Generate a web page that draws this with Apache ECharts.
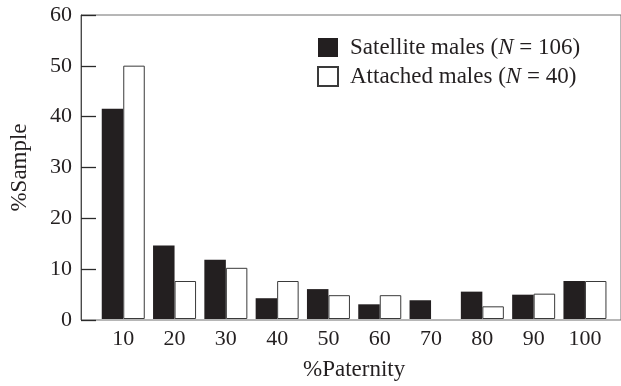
<!DOCTYPE html>
<html>
<head>
<meta charset="utf-8">
<script src="https://cdn.jsdelivr.net/npm/echarts@6/dist/echarts.min.js"></script>
<style>
  html, body { margin: 0; padding: 0; background: #fff; }
  #chart { width: 621px; height: 386px; }
</style>
</head>
<body>
<div id="chart"></div>
<script>
// Paternity classes (%) on the x axis
const categories = ['10', '20', '30', '40', '50', '60', '70', '80', '90', '100'];
// Share of each sample (%) falling in each paternity class
const satellite = [41.5, 14.5, 11.7, 4.1, 5.9, 2.9, 3.7, 5.4, 4.8, 7.5];
const attached = [50, 7.5, 10.1, 7.5, 4.7, 4.7, 0, 2.5, 5, 7.5];
// Legend entries and their sample sizes
const groupNames = ['Satellite males', 'Attached males'];
const sampleSizes = [106, 40];
// Y axis range and step
const yMin = 0;
const yMax = 60;
const yStep = 10;

const FONT = '"Liberation Serif", "Times New Roman", serif';
const INK = '#231f20';
const LINE = '#6e6e6e';

// empty classes get no outline so nothing is drawn on the baseline
function outlined(values) {
  return values.map(function (v) {
    return v === 0 ? { value: v, itemStyle: { borderWidth: 0 } } : v;
  });
}

const chart = echarts.init(document.getElementById('chart'), null, { renderer: 'canvas' });

chart.setOption({
  backgroundColor: '#ffffff',
  animation: false,
  textStyle: { fontFamily: FONT, color: INK },
  grid: [
    // plotting area holding the category bands
    { left: 97.6, right: 10.4, top: 15, bottom: 66 },
    // frame: y axis, top rule and baseline spanning the full width
    { left: 81, right: -20, top: 15, bottom: 66, show: true, borderColor: LINE, borderWidth: 1, backgroundColor: 'transparent' }
  ],
  legend: {
    orient: 'vertical',
    left: 317,
    top: 36,
    padding: 0,
    itemWidth: 20,
    itemHeight: 19,
    itemGap: 6,
    icon: 'rect',
    selectedMode: false,
    data: groupNames,
    formatter: function (name) {
      const n = sampleSizes[groupNames.indexOf(name)];
      return name + ' ({i|N} = ' + n + ')';
    },
    textStyle: {
      fontFamily: FONT,
      fontSize: 23,
      color: INK,
      padding: [0, 0, 0, 7],
      rich: {
        i: { fontFamily: FONT, fontSize: 23, fontStyle: 'italic', color: INK }
      }
    }
  },
  xAxis: [
    {
      type: 'category',
      gridIndex: 0,
      data: categories,
      boundaryGap: true,
      axisLine: { show: false },
      axisTick: { show: false },
      axisLabel: { fontFamily: FONT, fontSize: 22, color: INK, margin: 9 },
      name: '%Paternity',
      nameLocation: 'middle',
      nameGap: 39,
      nameTextStyle: { fontFamily: FONT, fontSize: 23, color: INK }
    },
    { type: 'value', gridIndex: 1, min: 0, max: 1, show: false }
  ],
  yAxis: [
    // scale for the bars
    { type: 'value', gridIndex: 0, min: yMin, max: yMax, interval: yStep, show: false },
    // visible axis at the frame's left edge, same range
    {
      type: 'value',
      gridIndex: 1,
      position: 'left',
      min: yMin,
      max: yMax,
      interval: yStep,
      axisLine: { show: true, onZero: false, lineStyle: { color: '#4a4a4a', width: 1 } },
      axisTick: { show: true, inside: true, length: 15, lineStyle: { color: '#2a2a2a', width: 1.3 } },
      splitLine: { show: false },
      axisLabel: { fontFamily: FONT, fontSize: 22, color: INK, margin: 9 },
      name: '%Sample',
      nameLocation: 'middle',
      nameGap: 50,
      nameRotate: 90,
      nameTextStyle: { fontFamily: FONT, fontSize: 23, color: INK }
    }
  ],
  series: [
    {
      name: groupNames[0],
      type: 'bar',
      xAxisIndex: 0,
      yAxisIndex: 0,
      data: outlined(satellite),
      barWidth: 21.5,
      barGap: '0%',
      itemStyle: { color: INK, borderColor: INK, borderWidth: 0 }
    },
    {
      name: groupNames[1],
      type: 'bar',
      xAxisIndex: 0,
      yAxisIndex: 0,
      data: outlined(attached),
      barWidth: 21.5,
      barGap: '0%',
      itemStyle: { color: '#ffffff', borderColor: '#3a3a3a', borderWidth: 1 }
    }
  ]
});
</script>
</body>
</html>
